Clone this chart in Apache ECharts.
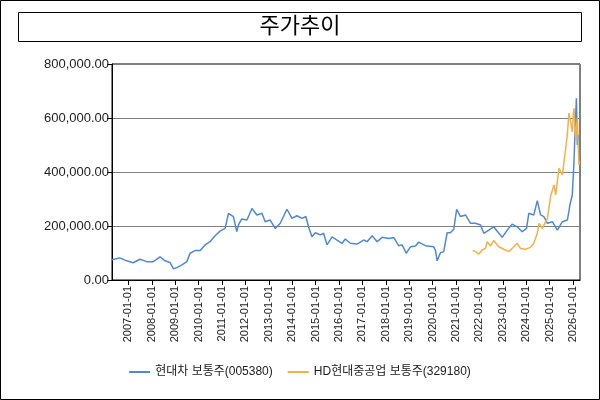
<!DOCTYPE html>
<html>
<head>
<meta charset="utf-8">
<script src="https://cdn.jsdelivr.net/npm/echarts@6/dist/echarts.min.js"></script>
<style>html,body{margin:0;padding:0;background:#fff}#c{width:600px;height:400px}</style>
</head>
<body>
<div id="c"></div>
<script>
var titleText = '주가추이';
var seriesNames = ['현대차 보통주(005380)', 'HD현대중공업 보통주(329180)'];
var xTickDates = ['2007-01-01','2008-01-01','2009-01-01','2010-01-01','2011-01-01','2012-01-01','2013-01-01','2014-01-01','2015-01-01','2016-01-01','2017-01-01','2018-01-01','2019-01-01','2020-01-01','2021-01-01','2022-01-01','2023-01-01','2024-01-01','2025-01-01','2026-01-01'];
var yTicks = [0, 200000, 400000, 600000, 800000];

var hyundaiDates = ['2006-04-20','2006-05-10','2006-08-20','2006-12-05','2007-03-15','2007-07-01','2007-10-15','2008-01-25','2008-05-10','2008-07-25','2008-10-10','2008-12-05','2009-01-25','2009-04-15','2009-07-01','2009-08-20','2009-11-05','2010-01-25','2010-04-12','2010-06-28','2010-09-15','2010-12-01','2011-02-18','2011-04-12','2011-05-08','2011-06-28','2011-08-20','2011-09-15','2011-11-05','2012-01-25','2012-04-12','2012-06-28','2012-09-15','2012-11-05','2013-01-22','2013-04-10','2013-06-28','2013-10-10','2013-12-28','2014-03-15','2014-06-02','2014-08-02','2014-09-12','2014-11-05','2014-12-26','2015-03-15','2015-05-05','2015-06-28','2015-09-15','2015-12-01','2016-02-18','2016-04-08','2016-06-26','2016-10-08','2017-01-20','2017-03-15','2017-06-01','2017-08-18','2017-11-05','2018-02-15','2018-05-05','2018-07-20','2018-09-12','2018-11-15','2019-01-20','2019-04-08','2019-05-28','2019-06-25','2019-09-10','2020-01-18','2020-02-15','2020-03-12','2020-05-02','2020-06-22','2020-08-15','2020-10-05','2020-11-26','2021-01-10','2021-03-12','2021-05-28','2021-08-15','2021-11-01','2022-01-18','2022-03-10','2022-05-26','2022-08-12','2022-10-30','2022-12-22','2023-03-10','2023-05-26','2023-08-12','2023-10-30','2024-01-06','2024-02-10','2024-04-28','2024-06-22','2024-08-12','2024-10-02','2024-11-26','2025-02-12','2025-05-01','2025-07-17','2025-10-03','2025-10-28','2025-11-12','2025-12-20','2026-01-15','2026-01-26','2026-02-22','2026-03-08','2026-04-02','2026-04-13'];
var hyundaiValues = [75000,78000,82000,71000,64000,77000,68000,68000,86000,71000,65000,41000,46000,56000,68000,99000,109000,109000,130000,142000,164000,181000,191000,247000,253000,235000,179000,204000,226000,222000,265000,241000,247000,216000,222000,191000,210000,262000,228000,238000,228000,235000,197000,160000,175000,167000,173000,130000,160000,148000,136000,152000,136000,133000,148000,142000,164000,142000,158000,154000,157000,127000,130000,99000,123000,126000,140000,138000,127000,123000,109000,71000,101000,105000,175000,175000,188000,262000,235000,241000,210000,210000,204000,173000,185000,197000,173000,158000,185000,207000,197000,179000,191000,247000,241000,294000,241000,235000,210000,216000,185000,216000,222000,253000,278000,315000,438000,512000,673000,500000,537000,520000];

var hdDates = ['2021-09-17','2021-11-01','2021-12-22','2022-02-12','2022-04-05','2022-05-02','2022-06-22','2022-08-12','2022-10-30','2023-01-16','2023-04-05','2023-06-22','2023-08-12','2023-10-03','2023-12-20','2024-03-08','2024-04-28','2024-06-22','2024-07-18','2024-09-08','2024-10-30','2024-11-26','2025-01-16','2025-03-08','2025-04-04','2025-05-26','2025-07-18','2025-09-08','2025-10-03','2025-10-28','2025-11-24','2025-12-20','2026-01-06','2026-01-15','2026-02-10','2026-03-08','2026-04-02','2026-04-13'];
var hdValues = [109000,105000,96000,111000,117000,142000,126000,146000,123000,114000,105000,123000,136000,117000,114000,121000,136000,173000,210000,191000,216000,228000,310000,352000,315000,414000,389000,488000,537000,618000,586000,549000,618000,636000,525000,599000,426000,440000];

function ts(s) { var p = s.split('-'); return Date.UTC(+p[0], +p[1]-1, +p[2]); }
function pad(n) { return (n < 10 ? '0' : '') + n; }
function pairs(d, v) { return d.map(function (x, i) { return [ts(x), v[i]]; }); }
function fmtNum(v) {
  return v.toLocaleString('en-US', {minimumFractionDigits: 2, maximumFractionDigits: 2});
}
function fmtDate(v) { var d = new Date(v); return d.getUTCFullYear() + '-' + pad(d.getUTCMonth()+1) + '-' + pad(d.getUTCDate()); }

var FONT = '"Liberation Sans", Arial, "Noto Sans CJK KR", sans-serif';
var chart = echarts.init(document.getElementById('c'), null, {renderer: 'canvas'});
chart.setOption({
  animation: false,
  backgroundColor: '#fff',
  textStyle: {fontFamily: FONT},
  graphic: [
    {type: 'rect', shape: {x: 0.5, y: 0.5, width: 599, height: 399}, style: {fill: 'none', stroke: '#000', lineWidth: 1}, z: 100},
    {type: 'rect', shape: {x: 18.5, y: 12.5, width: 563, height: 29}, style: {fill: 'none', stroke: '#000', lineWidth: 1}, z: 100},
    {type: 'text', x: 300, y: 27, style: {text: titleText, fill: '#000', font: '22px ' + FONT, align: 'center', verticalAlign: 'middle'}, z: 100}
  ],
  grid: {left: 112, right: 20, top: 64, bottom: 120, show: true, borderColor: '#000', borderWidth: 1, backgroundColor: 'transparent'},
  legend: {
    bottom: 17, left: 'center',
    itemWidth: 21, itemHeight: 2, itemGap: 15,
    icon: 'rect',
    textStyle: {fontSize: 12, color: '#222', fontFamily: FONT},
    data: seriesNames
  },
  xAxis: {
    type: 'value',
    min: ts('2006-04-20'), max: ts('2026-04-19'),
    splitLine: {show: false},
    axisLine: {lineStyle: {color: '#000'}},
    axisTick: {show: true, length: 5, lineStyle: {color: '#000'}, customValues: xTickDates.map(ts)},
    axisLabel: {
      rotate: 90, fontSize: 11, color: '#222', margin: 6,
      customValues: xTickDates.map(ts),
      formatter: fmtDate
    }
  },
  yAxis: {
    type: 'value', min: yTicks[0], max: yTicks[yTicks.length-1], interval: 200000,
    axisLine: {show: true, lineStyle: {color: '#000'}},
    axisTick: {show: true, length: 5, lineStyle: {color: '#000'}},
    splitLine: {show: true, lineStyle: {color: '#808080', width: 1}},
    axisLabel: {fontSize: 13, color: '#222', margin: 3, formatter: fmtNum}
  },
  series: [
    {name: seriesNames[0], type: 'line', data: pairs(hyundaiDates, hyundaiValues), showSymbol: false, symbol: 'none',
     lineStyle: {color: '#4a89dc', width: 1.5}, itemStyle: {color: '#4a89dc'}},
    {name: seriesNames[1], type: 'line', data: pairs(hdDates, hdValues), showSymbol: false, symbol: 'none',
     lineStyle: {color: '#f6b142', width: 1.5}, itemStyle: {color: '#f6b142'}}
  ]
});
</script>
</body>
</html>
